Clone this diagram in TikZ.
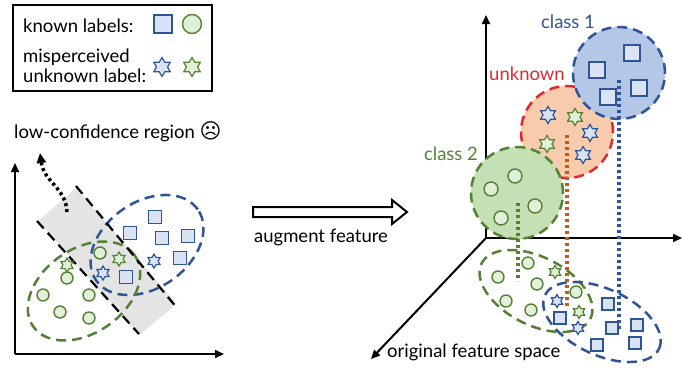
\documentclass[tikz,border=0pt]{standalone}
\usepackage{fontspec}
\setmainfont{Lato}
\newfontfamily\symfont{DejaVu Sans}
\usetikzlibrary{shapes.geometric,arrows.meta}
\definecolor{blueD}{HTML}{2F5597}
\definecolor{blueL}{HTML}{DAE3F3}
\definecolor{blueF}{HTML}{B4C7E7}
\definecolor{greenD}{HTML}{548235}
\definecolor{greenL}{HTML}{E2F0D9}
\definecolor{greenF}{HTML}{C5E0B4}
\definecolor{orangeF}{HTML}{F8CBAD}
\definecolor{orangeD}{HTML}{C55A11}
\definecolor{redD}{HTML}{E0282E}
\definecolor{grayF}{HTML}{E4E4E4}
\tikzset{
  txt/.style={font=\fontsize{18.5}{20}\selectfont, inner sep=0pt},
  sq/.style={draw=blueD, fill=blueL, line width=1.4pt, minimum size=#1, inner sep=0pt, shape=rectangle},
  sq/.default=13pt,
  ci/.style={draw=greenD, fill=greenL, line width=1.4pt, minimum size=#1, inner sep=0pt, shape=circle},
  ci/.default=12pt,
  bstar/.style={draw=blueD, fill=blueL, line width=1.2pt, star, star points=6, star point ratio=1.7, minimum size=#1, inner sep=0pt},
  bstar/.default=14pt,
  gstar/.style={draw=greenD, fill=greenL, line width=1.2pt, star, star points=6, star point ratio=1.7, minimum size=#1, inner sep=0pt},
  gstar/.default=14pt,
  dashE/.style={line width=2.5pt, dash pattern=on 10pt off 6pt},
  dotL/.style={line width=3.5pt, dash pattern=on 3pt off 3pt},
  axis/.style={line width=2pt, -{Triangle[length=9pt,width=8pt]}},
}
\begin{document}
\begin{tikzpicture}[x=1pt,y=-1pt]
\useasboundingbox (0,0) rectangle (683,370);

% ---------- legend ----------
\draw[line width=2.4pt] (13,5) rectangle (212,91);
\node[txt, anchor=base west] (lk) at (23,32) {known labels:};
\node[sq=18pt] (lsq) at (163,24) {};
\node[ci=19pt] (lci) at (192,24) {};
\node[txt, anchor=base west] (lm) at (23,62) {misperceived};
\node[txt, anchor=base west] (lu) at (23,82) {unknown label:};
\node[bstar=19pt] (lbs) at (162,67) {};
\node[gstar=19pt] (lgs) at (192,67) {};

% ---------- left plot ----------
\node[txt, anchor=base west] (lcr) at (14,138) {low-confidence region {\symfont\fontsize{21}{21}\selectfont ☹}};
\fill[grayF] (38,221) -- (76,188) -- (177,304) -- (139,335) -- cycle;
\draw[axis] (15,354) -- (15,163);
\draw[axis] (15,354) -- (224,354);
\draw[blueD, dashE, rotate around={35:(147,245)}] (147,245) ellipse [x radius=62pt, y radius=43pt];
\draw[greenD, dashE, rotate around={35:(84,291)}] (84,291) ellipse [x radius=62pt, y radius=42pt];
\draw[line width=2.2pt, dash pattern=on 10pt off 6pt] (76,186) -- (177,308);
\draw[line width=2.2pt, dash pattern=on 10pt off 6pt] (37,221) -- (139,334);
\draw[dotL, -{Triangle[length=10pt,width=9pt]}] (67,212) .. controls (66,188) and (44,182) .. (40,153);
\node[sq] (s1) at (155,217) {};
\node[sq] (s2) at (130,233) {};
\node[sq] (s3) at (162,238) {};
\node[sq] (s4) at (188,236) {};
\node[sq] (s5) at (180,258) {};
\node[sq] (s6) at (126,277) {};
\node[bstar] (b1) at (154,261) {};
\node[bstar] (b2) at (103,273) {};
\node[gstar] (g1) at (67,265) {};
\node[gstar] (g2) at (119,259) {};
\node[ci] (c1) at (100,253) {};
\node[ci] (c2) at (67,278) {};
\node[ci] (c3) at (43,295) {};
\node[ci] (c4) at (89,295) {};
\node[ci] (c5) at (60,312) {};
\node[ci] (c6) at (89,318) {};

% ---------- hollow arrow ----------
\draw[line width=2pt, fill=white] (253,207) -- (392,207) -- (392,200) -- (407,212) -- (392,224) -- (392,217) -- (253,217) -- cycle;
\node[txt, anchor=base] (aug) at (321,242) {augment feature};

% ---------- right plot ----------
\coordinate (O) at (486,238);
\coordinate (Ytip) at (486,15);
\coordinate (Xtip) at (682,238);
\coordinate (Ztip) at (371,359);
\draw[axis] (O) -- (Ytip);
\draw[axis] (O) -- (Xtip);
\draw[axis] (O) -- (Ztip);

% bottom ellipses
\draw[greenD, dashE, rotate around={-27:(536,291)}] (536,291) ellipse [x radius=61pt, y radius=34pt];
\draw[blueD, dashE, rotate around={-25:(602,322)}] (602,322) ellipse [x radius=63pt, y radius=33pt];
\node[ci] (d1) at (528,263) {};
\node[ci] (d2) at (498,277) {};
\node[ci] (d3) at (537,284) {};
\node[ci] (d4) at (576,292) {};
\node[ci] (d5) at (506,301) {};
\node[ci] (d6) at (531,310) {};
\node[gstar=13pt] (e1) at (555,272) {};
\node[gstar=13pt] (e2) at (579,312) {};
\node[bstar=13pt] (e3) at (557,301) {};
\node[bstar=13pt] (e4) at (578,328) {};
\node[sq=12pt] (f1) at (560,318) {};
\node[sq=12pt] (f2) at (608,304) {};
\node[sq=12pt] (f3) at (612,328) {};
\node[sq=12pt] (f4) at (637,325) {};
\node[sq=12pt] (f5) at (597,345) {};
\node[sq=12pt] (f6) at (635,343) {};

% circles
\draw[redD, dashE, fill=orangeF] (567,132) circle [radius=46pt];
\draw[blueD, dashE, fill=blueF] (619,73) circle [radius=46pt];
\draw[greenD, dashE, fill=greenF] (517,193) circle [radius=46pt];

\node[sq=16pt] (h1) at (597,70) {};
\node[sq=16pt] (h2) at (632,53) {};
\node[sq=16pt] (h3) at (639,88) {};
\node[sq=16pt] (h4) at (608,97) {};
\node[bstar=17pt] (k1) at (548,115) {};
\node[bstar=17pt] (k2) at (590,133) {};
\node[bstar=17pt] (k3) at (583,155) {};
\node[gstar=17pt] (k4) at (575,117) {};
\node[gstar=17pt] (k5) at (547,144) {};
\node[ci=14pt] (m1) at (515,176) {};
\node[ci=14pt] (m2) at (491,189) {};
\node[ci=14pt] (m3) at (535,206) {};
\node[ci=14pt] (m4) at (501,218) {};

% dotted projections
\draw[blueD, dotL] (619,80) -- (619,331);
\draw[orangeD, dotL] (567,135) -- (567,309);
\draw[greenD, dotL] (518,203) -- (518,281);

\node[txt, anchor=base, text=blueD] (cl1) at (568,28) {class 1};
\node[txt, anchor=base, text=redD] (unk) at (527,80) {unknown};
\node[txt, anchor=base, text=greenD] (cl2) at (451,160) {class 2};
\node[txt, anchor=base west] (ofs) at (387,357) {original feature space};
\end{tikzpicture}
\end{document}
